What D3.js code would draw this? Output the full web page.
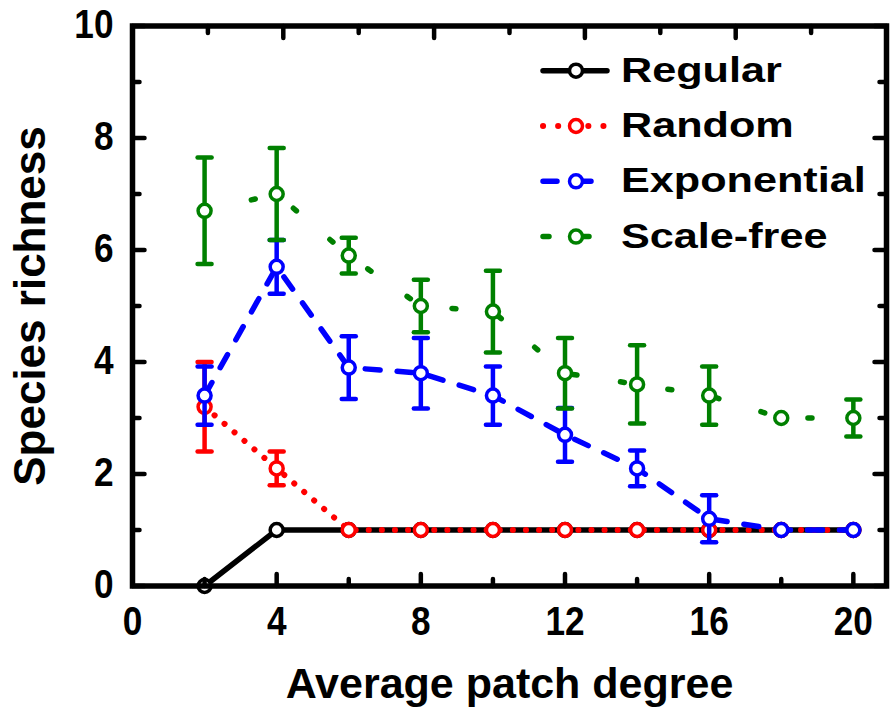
<!DOCTYPE html>
<html>
<head>
<meta charset="utf-8">
<script src="https://cdn.jsdelivr.net/npm/d3@7"></script>
<style>
  body { margin: 0; background: #fff; }
  text { font-family: "Liberation Sans", Arial, sans-serif; font-weight: bold; fill: #000; }
</style>
</head>
<body>
<div id="chart"></div>
<script>
// Species richness vs average patch degree

// data
const degrees = [2, 4, 6, 8, 10, 12, 14, 16, 18, 20];
const regular = [0, 1, 1, 1, 1, 1, 1, 1, 1, 1];
const random = [3.2, 2.1, 1, 1, 1, 1, 1, 1, 1, 1];
const randomErr = [0.8, 0.3, 0, 0, 0, 0, 0, 0, 0, 0];
const exponential = [3.4, 5.7, 3.9, 3.8, 3.4, 2.7, 2.1, 1.2, 1, 1];
const exponentialErr = [0.52, 0.48, 0.56, 0.63, 0.52, 0.48, 0.32, 0.42, 0, 0];
const scaleFree = [6.7, 7.0, 5.9, 5.0, 4.9, 3.8, 3.6, 3.4, 3.0, 3.0];
const scaleFreeErr = [0.95, 0.82, 0.32, 0.47, 0.73, 0.63, 0.7, 0.52, 0, 0.33];

const seriesNames = ["Regular", "Random", "Exponential", "Scale-free"];
const xTicks = [0, 4, 8, 12, 16, 20];
const yTicks = [0, 2, 4, 6, 8, 10];

function createChart() {
    const W = 892, H = 708;
    const margin = {top: 26, right: 5.5, bottom: 122, left: 132.5};

    const svg = d3.select("#chart").append("svg")
        .attr("width", W)
        .attr("height", H);

    const x = d3.scaleLinear().domain([0, 20.92]).range([margin.left, W - margin.right]);
    // the top axis of the original runs 0..20 over the full width
    const xTop = d3.scaleLinear().domain([0, 20]).range([margin.left, W - margin.right]);
    const y = d3.scaleLinear().domain([0, 10]).range([H - margin.bottom, margin.top]);

    const styles = [
        {color: "#000000", dash: null, width: 5.5},
        {color: "#ff0000", dash: "0.1,13", width: 6},
        {color: "#0000ff", dash: "15,17", width: 5.5},
        {color: "#008000", dash: "4,44", width: 5.5}
    ];

    const series = [
        {name: seriesNames[0], values: regular, err: null},
        {name: seriesNames[1], values: random, err: randomErr},
        {name: seriesNames[2], values: exponential, err: exponentialErr},
        {name: seriesNames[3], values: scaleFree, err: scaleFreeErr}
    ];

    const line = d3.line()
        .x(d => x(d.x))
        .y(d => y(d.y));

    series.forEach((s, i) => {
        const st = styles[i];
        const pts = degrees.map((d, j) => ({x: d, y: s.values[j], e: s.err ? s.err[j] : 0}));
        const g = svg.append("g");

        g.append("path")
            .datum(pts)
            .attr("d", line)
            .attr("fill", "none")
            .attr("stroke", st.color)
            .attr("stroke-width", st.width)
            .attr("stroke-linecap", "round")
            .attr("stroke-linejoin", "round")
            .attr("stroke-dasharray", st.dash);

        // error bars
        const withErr = pts.filter(d => d.e > 0);
        g.selectAll(".eb")
            .data(withErr)
            .enter()
            .append("line")
            .attr("x1", d => x(d.x))
            .attr("x2", d => x(d.x))
            .attr("y1", d => y(d.y - d.e))
            .attr("y2", d => y(d.y + d.e))
            .attr("stroke", st.color)
            .attr("stroke-width", 4.5);
        [-1, 1].forEach(sign => {
            g.selectAll(".cap" + sign)
                .data(withErr)
                .enter()
                .append("line")
                .attr("x1", d => x(d.x) - 7)
                .attr("x2", d => x(d.x) + 7)
                .attr("y1", d => y(d.y + sign * d.e))
                .attr("y2", d => y(d.y + sign * d.e))
                .attr("stroke", st.color)
                .attr("stroke-width", 4.5)
                .attr("stroke-linecap", "round");
        });

        // symbols
        g.selectAll("circle")
            .data(pts)
            .enter()
            .append("circle")
            .attr("cx", d => x(d.x))
            .attr("cy", d => y(d.y))
            .attr("r", 6.5)
            .attr("fill", "#fff")
            .attr("stroke", st.color)
            .attr("stroke-width", 3.5);
    });

    // frame
    const x0 = margin.left, x1 = W - margin.right, y0 = H - margin.bottom, y1 = margin.top;
    svg.append("rect")
        .attr("x", x0)
        .attr("y", y1)
        .attr("width", x1 - x0)
        .attr("height", y0 - y1)
        .attr("fill", "none")
        .attr("stroke", "#000")
        .attr("stroke-width", 5.5);

    // inward ticks
    const xMinor = d3.range(2, 21, 4);
    const yMinor = d3.range(1, 10, 2);
    const tick = (x1_, y1_, x2_, y2_) => svg.append("line")
        .attr("x1", x1_).attr("y1", y1_).attr("x2", x2_).attr("y2", y2_)
        .attr("stroke", "#000").attr("stroke-width", 4.5).attr("stroke-linecap", "round");

    xTicks.forEach(v => { tick(x(v), y0, x(v), y0 - 12); tick(xTop(v), y1, xTop(v), y1 + 12); });
    xMinor.forEach(v => { tick(x(v), y0, x(v), y0 - 7); tick(xTop(v), y1, xTop(v), y1 + 7); });
    yTicks.forEach(v => { tick(x0, y(v), x0 + 12, y(v)); tick(x1, y(v), x1 - 12, y(v)); });
    yMinor.forEach(v => { tick(x0, y(v), x0 + 7, y(v)); tick(x1, y(v), x1 - 7, y(v)); });

    // tick labels
    svg.selectAll(".xlabel")
        .data(xTicks)
        .enter()
        .append("text")
        .attr("transform", d => `translate(${x(d)},${y0 + 49}) scale(0.88,1)`)
        .attr("text-anchor", "middle")
        .style("font-size", "40px")
        .text(d => d);

    svg.selectAll(".ylabel")
        .data(yTicks)
        .enter()
        .append("text")
        .attr("transform", d => `translate(${x0 - 19},${y(d) + 12}) scale(0.88,1)`)
        .attr("text-anchor", "end")
        .style("font-size", "40px")
        .text(d => d);

    // axis titles
    svg.append("text")
        .attr("x", (x0 + x1) / 2)
        .attr("y", 698)
        .attr("text-anchor", "middle")
        .style("font-size", "43px")
        .text("Average patch degree");

    svg.append("text")
        .attr("transform", `translate(45,${(y0 + y1) / 2}) rotate(-90)`)
        .attr("text-anchor", "middle")
        .style("font-size", "44px")
        .text("Species richness");

    // legend
    const legendDash = [null, "0.1,15", "14,20", "6,34"];
    const legend = svg.append("g");
    series.forEach((s, i) => {
        const st = styles[i];
        const ly = 70.7 + i * 55.3;
        legend.append("line")
            .attr("x1", 543)
            .attr("x2", 607)
            .attr("y1", ly)
            .attr("y2", ly)
            .attr("stroke", st.color)
            .attr("stroke-width", st.width)
            .attr("stroke-linecap", "round")
            .attr("stroke-dasharray", legendDash[i]);
        legend.append("circle")
            .attr("cx", 576)
            .attr("cy", ly)
            .attr("r", 6.5)
            .attr("fill", "#fff")
            .attr("stroke", st.color)
            .attr("stroke-width", 3.5);
        legend.append("text")
            .attr("transform", `translate(621,${ly + 11}) scale(1.2,1)`)
            .style("font-size", "36px")
            .text(s.name);
    });
}

document.addEventListener("DOMContentLoaded", createChart);
</script>
</body>
</html>
